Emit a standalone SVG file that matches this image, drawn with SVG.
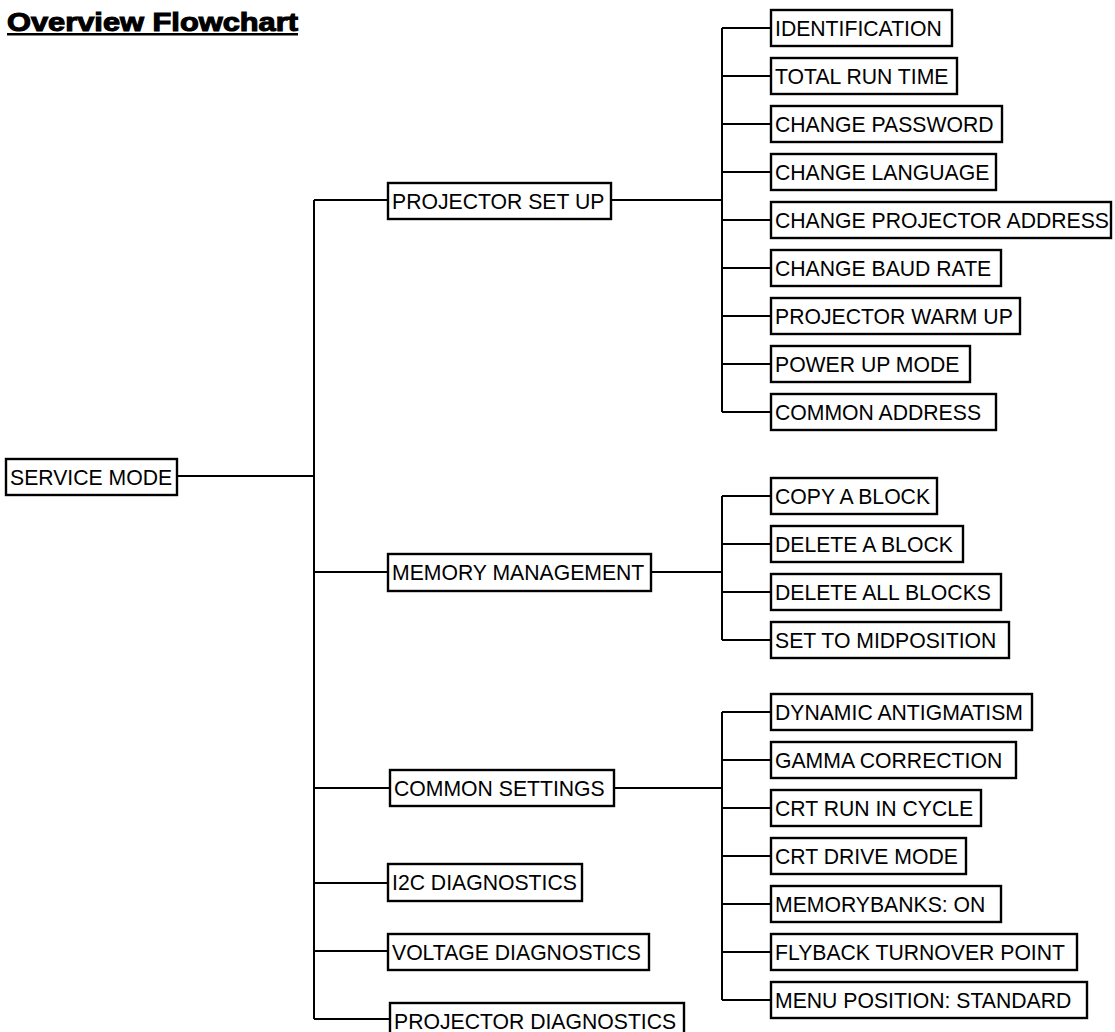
<svg xmlns="http://www.w3.org/2000/svg" width="1115" height="1032" viewBox="0 0 1115 1032">
<style>
.box{fill:#fff;stroke:#000;stroke-width:2.4}
.lbl{font-family:"Liberation Sans",Arial,sans-serif;font-size:21.2px;fill:#000}
.ln{stroke:#000;stroke-width:2;fill:none}
.title{font-family:"Liberation Sans",Arial,sans-serif;font-size:26px;font-weight:bold;fill:#000;stroke:#000;stroke-width:1.1}
</style>
<rect width="1115" height="1032" fill="#fff"/>
<g id="title">
<text class="title" x="7" y="31" textLength="291" lengthAdjust="spacingAndGlyphs">Overview Flowchart</text>
<rect x="7" y="33" width="291" height="2.5" fill="#000"/>
</g>
<g id="connectors">
<path class="ln" d="M178 476H314M314 200V1019"/>
<path class="ln" d="M314 200H387M612 200H722M722 28V412"/>
<path class="ln" d="M722 28H770M722 76H770M722 124H770M722 172H770M722 220H770M722 268H770M722 316H770M722 364H770M722 412H770"/>
<path class="ln" d="M314 572H387M652 572H722M722 496V640M722 496H770M722 544H770M722 592H770M722 640H770"/>
<path class="ln" d="M314 788H389M615 788H722M722 712V1000M722 712H770M722 760H770M722 808H770M722 856H770M722 904H770M722 952H770M722 1000H770"/>
<path class="ln" d="M314 883H387M314 951H387M314 1019H389"/>
</g>
<g id="service-mode"><rect class="box" x="6" y="459" width="171" height="36"/><text class="lbl" x="10" y="485">SERVICE MODE</text></g>
<g id="projector-set-up"><rect class="box" x="388" y="183" width="223" height="36"/><text class="lbl" x="392" y="209">PROJECTOR SET UP</text></g>
<g id="identification"><rect class="box" x="771" y="10" width="181" height="36"/><text class="lbl" x="775" y="36">IDENTIFICATION</text></g>
<g id="total-run-time"><rect class="box" x="771" y="58" width="186" height="36"/><text class="lbl" x="775" y="84">TOTAL RUN TIME</text></g>
<g id="change-password"><rect class="box" x="771" y="106" width="231" height="36"/><text class="lbl" x="775" y="132">CHANGE PASSWORD</text></g>
<g id="change-language"><rect class="box" x="771" y="154" width="225" height="36"/><text class="lbl" x="775" y="180">CHANGE LANGUAGE</text></g>
<g id="change-projector-address"><rect class="box" x="771" y="202" width="340" height="36"/><text class="lbl" x="775" y="228">CHANGE PROJECTOR ADDRESS</text></g>
<g id="change-baud-rate"><rect class="box" x="771" y="250" width="230" height="36"/><text class="lbl" x="775" y="276">CHANGE BAUD RATE</text></g>
<g id="projector-warm-up"><rect class="box" x="771" y="298" width="249" height="36"/><text class="lbl" x="775" y="324">PROJECTOR WARM UP</text></g>
<g id="power-up-mode"><rect class="box" x="771" y="346" width="199" height="36"/><text class="lbl" x="775" y="372">POWER UP MODE</text></g>
<g id="common-address"><rect class="box" x="771" y="394" width="225" height="36"/><text class="lbl" x="775" y="420">COMMON ADDRESS</text></g>
<g id="memory-management"><rect class="box" x="388" y="554" width="263" height="37"/><text class="lbl" x="392" y="580">MEMORY MANAGEMENT</text></g>
<g id="copy-a-block"><rect class="box" x="771" y="478" width="166" height="36"/><text class="lbl" x="775" y="504">COPY A BLOCK</text></g>
<g id="delete-a-block"><rect class="box" x="771" y="526" width="192" height="36"/><text class="lbl" x="775" y="552">DELETE A BLOCK</text></g>
<g id="delete-all-blocks"><rect class="box" x="771" y="574" width="230" height="36"/><text class="lbl" x="775" y="600">DELETE ALL BLOCKS</text></g>
<g id="set-to-midposition"><rect class="box" x="771" y="622" width="238" height="36"/><text class="lbl" x="775" y="648">SET TO MIDPOSITION</text></g>
<g id="common-settings"><rect class="box" x="390" y="770" width="224" height="36"/><text class="lbl" x="394" y="796">COMMON SETTINGS</text></g>
<g id="dynamic-antigmatism"><rect class="box" x="771" y="694" width="261" height="36"/><text class="lbl" x="775" y="720">DYNAMIC ANTIGMATISM</text></g>
<g id="gamma-correction"><rect class="box" x="771" y="742" width="245" height="36"/><text class="lbl" x="775" y="768">GAMMA CORRECTION</text></g>
<g id="crt-run-in-cycle"><rect class="box" x="771" y="790" width="210" height="36"/><text class="lbl" x="775" y="816">CRT RUN IN CYCLE</text></g>
<g id="crt-drive-mode"><rect class="box" x="771" y="838" width="195" height="36"/><text class="lbl" x="775" y="864">CRT DRIVE MODE</text></g>
<g id="memorybanks-on"><rect class="box" x="771" y="886" width="230" height="36"/><text class="lbl" x="775" y="912">MEMORYBANKS: ON</text></g>
<g id="flyback-turnover-point"><rect class="box" x="771" y="934" width="306" height="36"/><text class="lbl" x="775" y="960">FLYBACK TURNOVER POINT</text></g>
<g id="menu-position-standard"><rect class="box" x="771" y="982" width="316" height="36"/><text class="lbl" x="775" y="1008">MENU POSITION: STANDARD</text></g>
<g id="i2c-diagnostics"><rect class="box" x="388" y="864" width="194" height="37"/><text class="lbl" x="392" y="890">I2C DIAGNOSTICS</text></g>
<g id="voltage-diagnostics"><rect class="box" x="388" y="934" width="261" height="36"/><text class="lbl" x="392" y="960">VOLTAGE DIAGNOSTICS</text></g>
<g id="projector-diagnostics"><rect class="box" x="390" y="1003" width="294" height="36"/><text class="lbl" x="394" y="1029">PROJECTOR DIAGNOSTICS</text></g>
</svg>
